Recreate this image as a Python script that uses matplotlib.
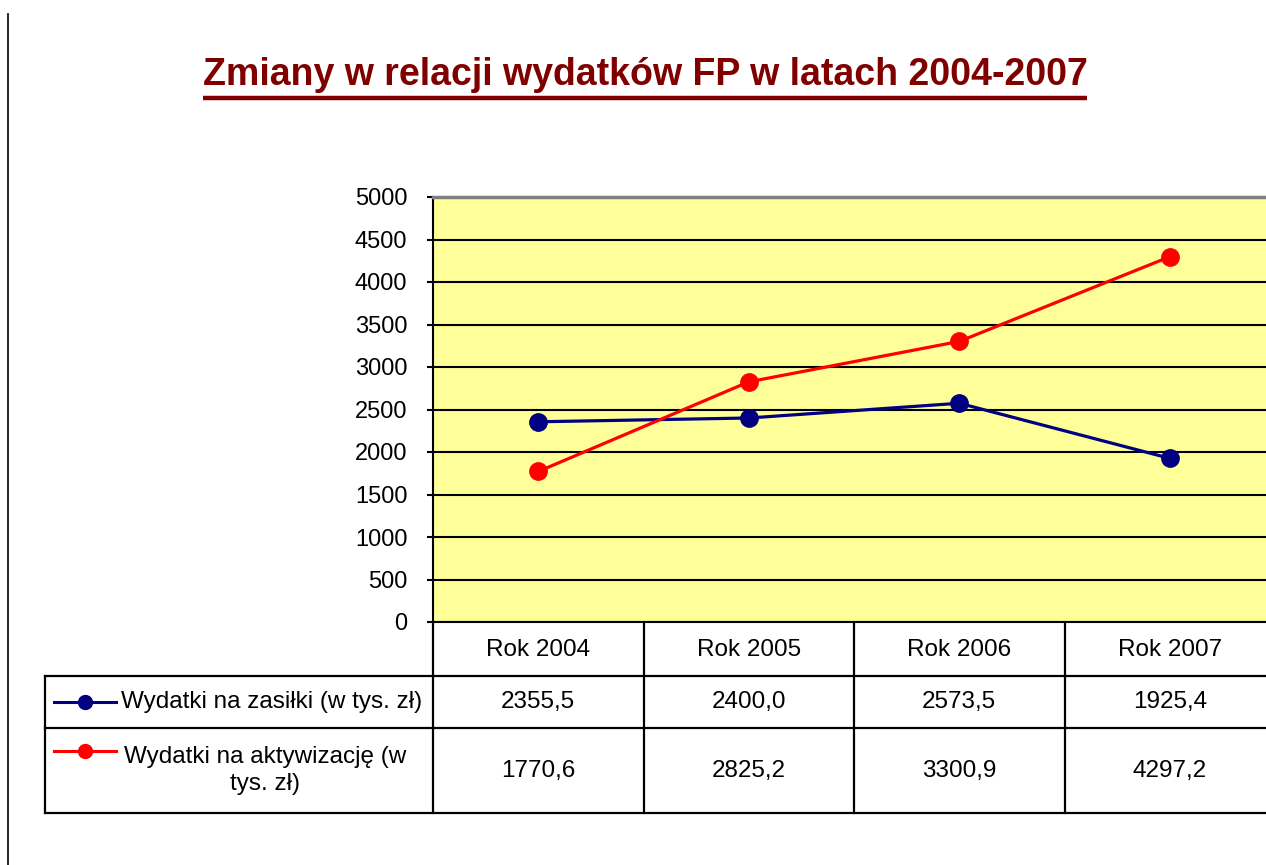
import matplotlib
matplotlib.use("Agg")
import matplotlib.pyplot as plt
from matplotlib import font_manager

years = ["Rok 2004", "Rok 2005", "Rok 2006", "Rok 2007"]
zasilki = [2355.5, 2400.0, 2573.5, 1925.4]
aktywizacja = [1770.6, 2825.2, 3300.9, 4297.2]
series_names = ["Wydatki na zasiłki (w tys. zł)", "Wydatki na aktywizację (w\ntys. zł)"]
series_colors = ["#000080", "#ff0000"]
yticks = list(range(0, 5001, 500))
title = "Zmiany w relacji wydatków FP w latach 2004-2007"

plt.rcParams['font.family'] = ['Liberation Sans', 'DejaVu Sans']
names = {f.name for f in font_manager.fontManager.ttflist}
narrow = "Liberation Sans Narrow" in names
tick_font = "Liberation Sans Narrow" if narrow else "Liberation Sans"
tick_size = 21 if narrow else 17

W, H = 1266, 865
fig = plt.figure(figsize=(W / 100, H / 100), dpi=100)

# plot area (runs a bit past the right edge, like the original slide)
left, top, bottom = 433, 197, 622
col_w = 210.5
ax = fig.add_axes([left / W, 1 - bottom / H, 4 * col_w / W, (bottom - top) / H])
ax.set_facecolor("#ffff99")
x = range(len(years))
all_vals = [zasilki, aktywizacja]
for vals, c in zip(all_vals, series_colors):
    ax.plot(x, vals, color=c, lw=2.3, marker="o", ms=12.5, zorder=3, clip_on=False)
ax.set_xlim(-0.5, len(years) - 0.5)
ax.set_ylim(0, 5000)
ax.set_yticks(yticks)
ax.set_yticklabels([str(v) for v in yticks], fontfamily=tick_font, fontsize=tick_size)
ax.tick_params(axis='y', length=4.5, width=1.5, pad=14, color='black')
ax.set_xticks([])
ax.grid(axis='y', color='black', lw=1.5)
ax.set_axisbelow(True)
ax.spines['right'].set_visible(False)
ax.spines['top'].set_color('#808080')
ax.spines['top'].set_linewidth(2.5)
for s in ['left', 'bottom']:
    ax.spines[s].set_color('black')
    ax.spines[s].set_linewidth(1.5)

# overlay in pixel coords for table, frame line and title underline
ov = fig.add_axes([0, 0, 1, 1], zorder=-1)
ov.set_xlim(0, W)
ov.set_ylim(H, 0)
ov.axis('off')
ov.patch.set_alpha(0)

tab_left = 45
rows = [bottom, 676, 728, 813]
lw = 1.6
for r in rows[1:]:
    ov.plot([tab_left, W], [r, r], color='black', lw=lw)
ov.plot([tab_left, tab_left], [rows[1], rows[3]], color='black', lw=lw)
for i in range(len(years)):
    cx = left + i * col_w
    ov.plot([cx, cx], [rows[0], rows[3]], color='black', lw=lw)
    mid = cx + col_w / 2
    ov.text(mid, (rows[0] + rows[1]) / 2 + 1, years[i], ha='center', va='center', fontsize=17.5)
    for j, vals in enumerate(all_vals):
        s = f"{vals[i]:.1f}".replace('.', ',')
        ov.text(mid, (rows[j + 1] + rows[j + 2]) / 2, s, ha='center', va='center', fontsize=17.5)

# legend keys in the table
for j, (name, c) in enumerate(zip(series_names, series_colors)):
    ky = (rows[1] + rows[2]) / 2 if j == 0 else rows[2] + 23
    ov.plot([54, 116], [ky, ky], color=c, lw=2.2)
    ov.plot([85], [ky], color=c, marker='o', ms=10)
    ty = (rows[j + 1] + rows[j + 2]) / 2
    ov.text(272 if j == 0 else 265, ty, name, ha='center', va='center',
            fontsize=17.5, linespacing=1.35)

# frame line on the left of the slide
ov.plot([8, 8], [14, H], color='black', lw=1.2)

t = fig.text(645 / W, 1 - 75 / H, title, ha='center', va='center',
             fontsize=27, fontweight='bold', color='#800000')
fig.canvas.draw()
bb = t.get_window_extent()
ov.plot([bb.x0, bb.x1], [97.5, 97.5], color='#800000', lw=3.2, solid_capstyle='butt')

fig.savefig("out.png", dpi=100, facecolor='white')
